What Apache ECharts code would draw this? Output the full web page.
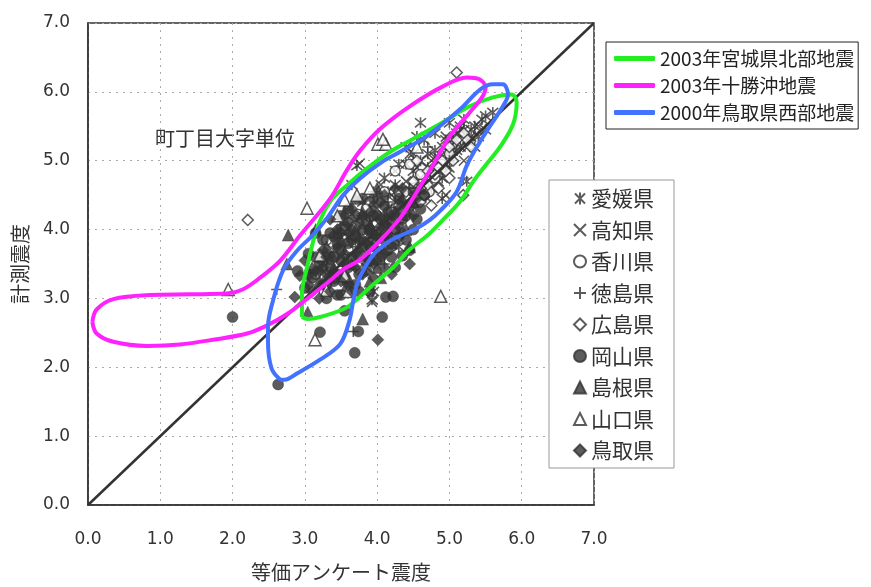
<!DOCTYPE html>
<html><head><meta charset="utf-8">
<script src="https://cdn.jsdelivr.net/npm/echarts@6/dist/echarts.min.js"></script>
<style>html,body{margin:0;padding:0;background:#fff}#c{width:871px;height:587px}</style>
</head><body><div id="c"></div>
<script>
// ---- data ----
var xTicks = ['0.0','1.0','2.0','3.0','4.0','5.0','6.0','7.0'];
var diagonal = [[0,0],[7,7]];
var contourNames = ['2003年宮城県北部地震','2003年十勝沖地震','2000年鳥取県西部地震'];
var miyagi = [[2.96,2.73],[2.96,3.06],[3.03,3.45],[3.17,4.02],[3.35,4.41],[3.58,4.64],[3.86,4.89],[4.18,5.13],[4.45,5.29],[4.91,5.56],[5.28,5.79],[5.60,5.92],[5.86,5.96],[5.93,5.85],[5.88,5.53],[5.70,5.20],[5.52,4.96],[5.33,4.70],[5.15,4.41],[4.91,4.14],[4.69,3.91],[4.45,3.71],[4.22,3.45],[3.90,3.16],[3.58,2.87],[3.21,2.73],[3.04,2.70],[2.96,2.73]];
var tokachi = [[0.06,2.66],[0.12,2.84],[0.35,2.99],[0.86,3.05],[1.41,3.06],[1.92,3.07],[2.14,3.13],[2.38,3.30],[2.66,3.55],[2.93,3.91],[3.35,4.45],[3.58,4.86],[3.76,5.14],[4.04,5.46],[4.45,5.79],[4.91,6.08],[5.24,6.21],[5.42,6.18],[5.50,6.06],[5.45,5.92],[5.28,5.70],[5.01,5.36],[4.77,4.93],[4.55,4.55],[4.32,4.17],[4.04,3.84],[3.76,3.56],[3.53,3.42],[3.35,3.26],[3.11,3.06],[2.75,2.77],[2.48,2.61],[2.20,2.49],[1.73,2.40],[1.27,2.33],[0.82,2.31],[0.35,2.37],[0.12,2.49],[0.06,2.66]];
var tottoriW = [[2.66,1.82],[2.54,1.98],[2.49,2.37],[2.49,2.59],[2.56,2.97],[2.70,3.41],[2.89,3.69],[3.11,3.92],[3.31,4.17],[3.53,4.50],[3.76,4.74],[4.08,4.99],[4.32,5.13],[4.69,5.36],[5.15,5.75],[5.42,6.03],[5.60,6.11],[5.74,6.11],[5.81,5.96],[5.74,5.79],[5.56,5.50],[5.42,5.27],[5.24,4.93],[5.10,4.55],[4.87,4.27],[4.73,4.14],[4.55,4.02],[4.32,3.91],[4.18,3.84],[3.97,3.66],[3.83,3.45],[3.73,3.23],[3.67,2.97],[3.62,2.69],[3.49,2.34],[3.21,2.11],[2.89,1.91],[2.72,1.82],[2.66,1.82]];

var prefNames = ['愛媛県','高知県','香川県','徳島県','広島県','岡山県','島根県','山口県','鳥取県'];
var ehime = [[3.72,4.93],[5.24,4.70],[3.93,2.98],[4.1,4.75],[4.2,4.3],[4.3,4.95],[4.35,4.55],[4.4,5.2],[4.5,4.85],[4.55,5.35],[4.6,4.6],[4.7,5.1],[4.75,4.8],[4.8,5.4],[4.85,5.05],[4.9,4.75],[4.95,5.3],[5.0,5.55],[5.05,5.05],[5.1,5.4],[5.15,5.2],[5.2,5.6],[5.3,5.45],[5.35,5.2],[5.45,5.6],[5.5,5.45],[4.0,4.5],[3.9,4.1],[3.8,4.4],[4.15,4.0],[4.25,4.65],[4.45,4.25],[4.65,5.3],[3.6,3.9],[3.85,3.45],[4.05,3.9],[4.6,5.55],[3.95,3.1],[4.3,3.75],[5.6,5.7],[4.9,4.45],[3.5,4.1],[3.4,3.7],[3.65,4.65],
  [4.7,4.9],[4.8,5.15],[4.85,4.85],[4.95,5.1],[5.05,5.3],[5.1,5.15],[5.2,5.45],[5.25,5.3],[5.35,5.5],[5.4,5.35],[4.4,4.95],[4.5,5.1],[4.6,5.0],[4.25,4.4],[4.15,4.55],[4.75,4.6],[4.55,4.7],[5.15,5.5],[4.95,4.95],[5.5,5.65]];
var kochi = [[3.93,2.95],[3.76,4.96],[3.9,3.8],[4.0,4.3],[4.1,4.0],[4.2,4.5],[4.3,4.2],[4.4,4.7],[4.5,4.4],[4.55,4.9],[4.65,4.6],[4.75,5.0],[4.85,4.7],[4.9,5.2],[5.0,4.9],[5.1,5.3],[5.2,5.0],[5.3,5.35],[4.45,5.1],[3.7,3.5],[3.5,3.6],[4.95,4.5],[5.4,5.5],[3.3,3.35],[4.05,4.65],
  [4.6,4.75],[4.8,5.05],[5.05,5.15],[5.15,5.45],[4.35,4.5],[4.25,4.85],[4.7,4.45],[4.95,5.35],[5.25,5.2],[4.15,4.2]];
var kagawa = [[3.65,4.14],[3.74,4.22],[3.46,3.95],[3.55,4.0],[3.3,3.85],[3.4,3.6],[3.25,3.55],[3.6,3.7],[3.8,3.95],[3.9,4.4],[4.0,4.1],[4.1,4.55],[4.2,4.25],[4.3,4.55],[4.4,4.45],[4.5,4.6],[4.65,4.62],[4.72,4.55],[4.8,4.75],[4.6,4.8],[4.9,4.95],[5.0,5.1],[3.15,3.35],[3.95,3.7],[4.25,4.85],[3.5,3.4],[4.45,4.95],
  [4.55,4.5],[4.85,4.9],[4.35,4.3],[3.7,4.05],[3.85,4.3]];
var tokushima = [[3.67,2.52],[2.61,3.13],[5.19,4.75],[3.3,3.5],[3.5,3.95],[3.7,3.75],[3.85,4.2],[4.0,3.7],[4.15,4.4],[4.3,4.1],[4.45,4.6],[4.6,4.45],[4.8,4.9],[5.0,5.0],[3.6,3.55],[3.95,4.55],[4.7,5.2],[3.2,3.15],[4.1,3.5]];
var hiroshima = [[2.21,4.14],[5.10,6.28],[5.19,4.50],[4.6,4.4],[4.65,4.5],[4.7,4.65],[4.8,4.8],[4.9,5.0],[5.0,5.2],[5.1,5.3],[4.5,4.7],[4.4,4.55],[4.85,4.6],[5.2,5.4],[5.3,5.2],[4.55,5.0],[4.3,4.35],[3.9,4.0],[4.75,4.35],[5.0,4.75],
  [4.85,4.9],[4.95,4.85],[5.05,5.0],[4.7,4.85],[5.25,5.3],[4.6,4.6]];
var okayama = [[2.0,2.73],[2.63,1.75],[3.69,2.21],[4.07,2.73],[3.21,2.51],[3.74,2.52],[3.55,2.82],[4.12,3.02],[4.22,3.03],[4.35,3.62],[4.45,3.70],[3.0,3.15],[3.1,3.3],[3.2,3.5],[3.3,3.2],[3.35,3.6],[3.4,3.9],[3.45,3.35],[3.5,3.7],[3.55,4.05],[3.6,3.45],[3.65,3.85],[3.7,3.2],[3.75,3.6],[3.8,4.0],[3.85,3.4],[3.9,3.75],[3.95,4.2],[4.0,3.55],[4.05,3.95],[4.1,4.35],[4.15,3.7],[4.2,4.1],[4.25,3.45],[4.3,3.9],[4.4,4.2],[3.3,3.0],[3.45,3.05],[3.9,3.1],[3.6,4.3],[3.25,3.85],[4.5,4.0],[4.6,4.3],[2.9,3.4],[3.05,3.65],[3.15,3.95],
  [3.25,3.2],[3.35,3.45],[3.4,3.25],[3.5,3.55],[3.55,3.3],[3.6,3.8],[3.65,3.6],[3.7,3.9],[3.75,3.35],[3.8,3.75],[3.85,4.1],[3.9,3.55],[3.95,3.85],[4.0,4.2],[4.05,3.6],[4.1,3.85],[4.15,4.25],[4.2,3.6],[4.25,4.0],[4.3,4.45],[4.35,4.15],[4.4,3.85],[4.45,4.35],[4.5,4.55],[3.45,3.8],[3.5,4.2],[3.7,4.2],[3.8,4.45],[3.95,4.45],[4.05,4.15],[3.15,3.6],[3.05,3.35],[3.35,3.95],[3.6,4.1],[3.9,4.0],[4.15,3.9],[4.55,4.15],[4.65,4.5],[3.75,3.1],[3.5,3.05]];
var shimane = [[2.77,3.92],[3.04,2.80],[3.80,2.70],[3.58,3.19],[3.7,4.45],[2.75,3.5],[3.2,3.25],[3.4,3.45],[3.5,3.85],[3.6,3.3],[3.7,4.0],[3.85,3.55],[3.95,3.95],[4.05,3.3],[4.1,4.15],[4.2,3.8],[4.35,4.45],[4.45,3.75],[3.3,3.75],[3.9,3.25],[3.15,4.0],[3.55,4.25],[4.0,4.6],
  [3.25,3.6],[3.45,3.95],[3.65,3.5],[3.75,3.75],[3.9,4.05],[4.0,3.45],[4.15,3.95],[4.25,4.25],[4.4,4.0],[4.5,4.4],[3.35,3.3],[3.8,4.25],[4.6,4.6],[3.1,3.45]];
var yamaguchi = [[1.94,3.13],[4.88,3.03],[3.14,2.40],[4.01,5.24],[4.12,5.24],[3.03,4.31],[3.55,4.43],[3.72,4.50],[3.30,3.12],[3.21,3.63],[3.6,3.1],[3.55,3.33],[4.08,5.31],[3.9,4.6],[4.55,5.2],[3.45,4.2]];
var tottori = [[4.01,2.40],[2.93,3.33],[2.86,3.02],[3.1,3.1],[3.15,3.4],[3.25,3.7],[3.3,3.35],[3.4,3.6],[3.45,4.0],[3.5,3.25],[3.55,3.5],[3.6,3.95],[3.65,3.1],[3.7,3.65],[3.75,4.1],[3.8,3.35],[3.85,3.8],[3.9,4.25],[3.95,3.5],[4.0,3.9],[4.05,4.4],[4.1,3.65],[4.15,4.05],[4.2,3.35],[4.3,4.3],[4.35,3.95],[3.35,4.15],[3.2,3.0],[4.45,3.5],[3.0,3.55],[4.25,4.6],[3.75,3.85],
  [3.2,3.4],[3.3,3.6],[3.4,3.35],[3.45,3.75],[3.55,3.65],[3.6,3.2],[3.65,4.0],[3.7,3.45],[3.8,3.85],[3.85,3.6],[3.9,3.95],[3.95,4.35],[4.0,3.7],[4.05,4.05],[4.1,3.45],[4.2,4.2],[4.25,3.8],[4.3,4.05],[4.4,4.35],[4.5,4.2],[3.35,3.1],[3.05,3.2],[3.5,3.95],[4.35,4.6],[4.55,4.45],[4.1,4.5],[3.65,4.3],[3.8,4.2],[3.25,3.45],[3.95,3.3]];

// ---- chart ----
var INK = '#333';
var FONT_CJK = '"Noto Sans CJK JP", "Noto Sans", sans-serif';
var chart = echarts.init(document.getElementById('c'), null, {renderer:'canvas'});

function scat(name, data, symbol, size, filled, stroke) {
  return {
    name: name, type: 'scatter', data: data, symbol: symbol, symbolSize: size,
    z: 2,
    itemStyle: stroke ? {color: INK, borderColor: INK, borderWidth: 1.6}
      : (filled ? {color: INK, borderColor: INK, borderWidth: 0.5}
                : {color: '#fff', borderColor: INK, borderWidth: 1.5})
  };
}
var STAR = 'path://M0,0L10,10M10,0L0,10M5,-1L5,11';
var CROSS = 'path://M0,0L10,10M10,0L0,10';
var PLUS = 'path://M5,0L5,10M0,5L10,5';

var contourColors = ['#22ee22','#ff22ff','#4272ff'];
var contourData = [miyagi, tokachi, tottoriW];

var series = [
  scat(prefNames[0], ehime, STAR, 11, true, true),
  scat(prefNames[1], kochi, CROSS, 10, true, true),
  scat(prefNames[2], kagawa, 'circle', 10, false),
  scat(prefNames[3], tokushima, PLUS, 11, true, true),
  scat(prefNames[4], hiroshima, 'diamond', 11, false),
  scat(prefNames[5], okayama, 'circle', 11, true),
  scat(prefNames[6], shimane, 'triangle', 12, true),
  scat(prefNames[7], yamaguchi, 'triangle', 12, false),
  scat(prefNames[8], tottori, 'diamond', 12, true),
  {type:'line', data: diagonal, symbol:'none', z:3, silent:true,
   lineStyle:{color:'#333', width:2.5}}
];
contourNames.forEach(function(n,i){
  series.push({name:n, type:'line', data: contourData[i], symbol:'none', smooth:0.35, z:4,
    lineStyle:{color:contourColors[i], width:4}, itemStyle:{color:contourColors[i]}});
});

chart.setOption({
  animation: false,
  backgroundColor: '#fff',
  grid: {left: 88, top: 23, width: 506, height: 487, show: true, borderColor: '#333', borderWidth: 1.5},
  xAxis: {
    type: 'value', min: 0, max: 7, interval: 1,
    name: '等価アンケート震度', nameLocation: 'middle', nameGap: 57,
    nameTextStyle: {fontFamily: FONT_CJK, fontSize: 20, color: '#333'},
    axisLine: {lineStyle: {color: '#333', width: 1.5}},
    axisTick: {show: false},
    axisLabel: {margin: 26, fontFamily: '"DejaVu Sans"', fontSize: 17, color: '#333',
      formatter: function(v){ return xTicks[Math.round(v)]; }},
    splitLine: {lineStyle: {color: '#aaa', type: [2,5], width: 1}}
  },
  yAxis: {
    type: 'value', min: 0, max: 7, interval: 1,
    name: '計測震度', nameLocation: 'middle', nameGap: 58, nameRotate: 90,
    nameTextStyle: {fontFamily: FONT_CJK, fontSize: 20, color: '#333'},
    axisLine: {lineStyle: {color: '#333', width: 1.5}},
    axisTick: {show: false},
    axisLabel: {margin: 18, fontFamily: '"DejaVu Sans"', fontSize: 17, color: '#333',
      formatter: function(v){ return xTicks[Math.round(v)]; }},
    splitLine: {lineStyle: {color: '#aaa', type: [2,5], width: 1}}
  },
  legend: [
    {data: contourNames, orient: 'vertical', left: 606, top: 42,
     padding: [7, 4, 7, 8], itemGap: 8, itemWidth: 41, itemHeight: 5, icon: 'roundRect',
     borderColor: '#222', borderWidth: 1, backgroundColor: '#fff',
     textStyle: {fontFamily: FONT_CJK, fontSize: 19, color: '#222'}, selectedMode: false},
    {data: prefNames, orient: 'vertical', left: 549, top: 180,
     padding: [8, 20, 7, 24], itemGap: 10.5, itemWidth: 12, itemHeight: 12,
     borderColor: '#999', borderWidth: 1, backgroundColor: '#fff',
     textStyle: {fontFamily: FONT_CJK, fontSize: 21, color: '#333'}, selectedMode: false}
  ],
  graphic: [{type: 'text', left: 155, top: 128,
    style: {text: '町丁目大字単位', fontFamily: FONT_CJK, fontSize: 20, fill: '#333'}}],
  series: series
});
</script></body></html>
